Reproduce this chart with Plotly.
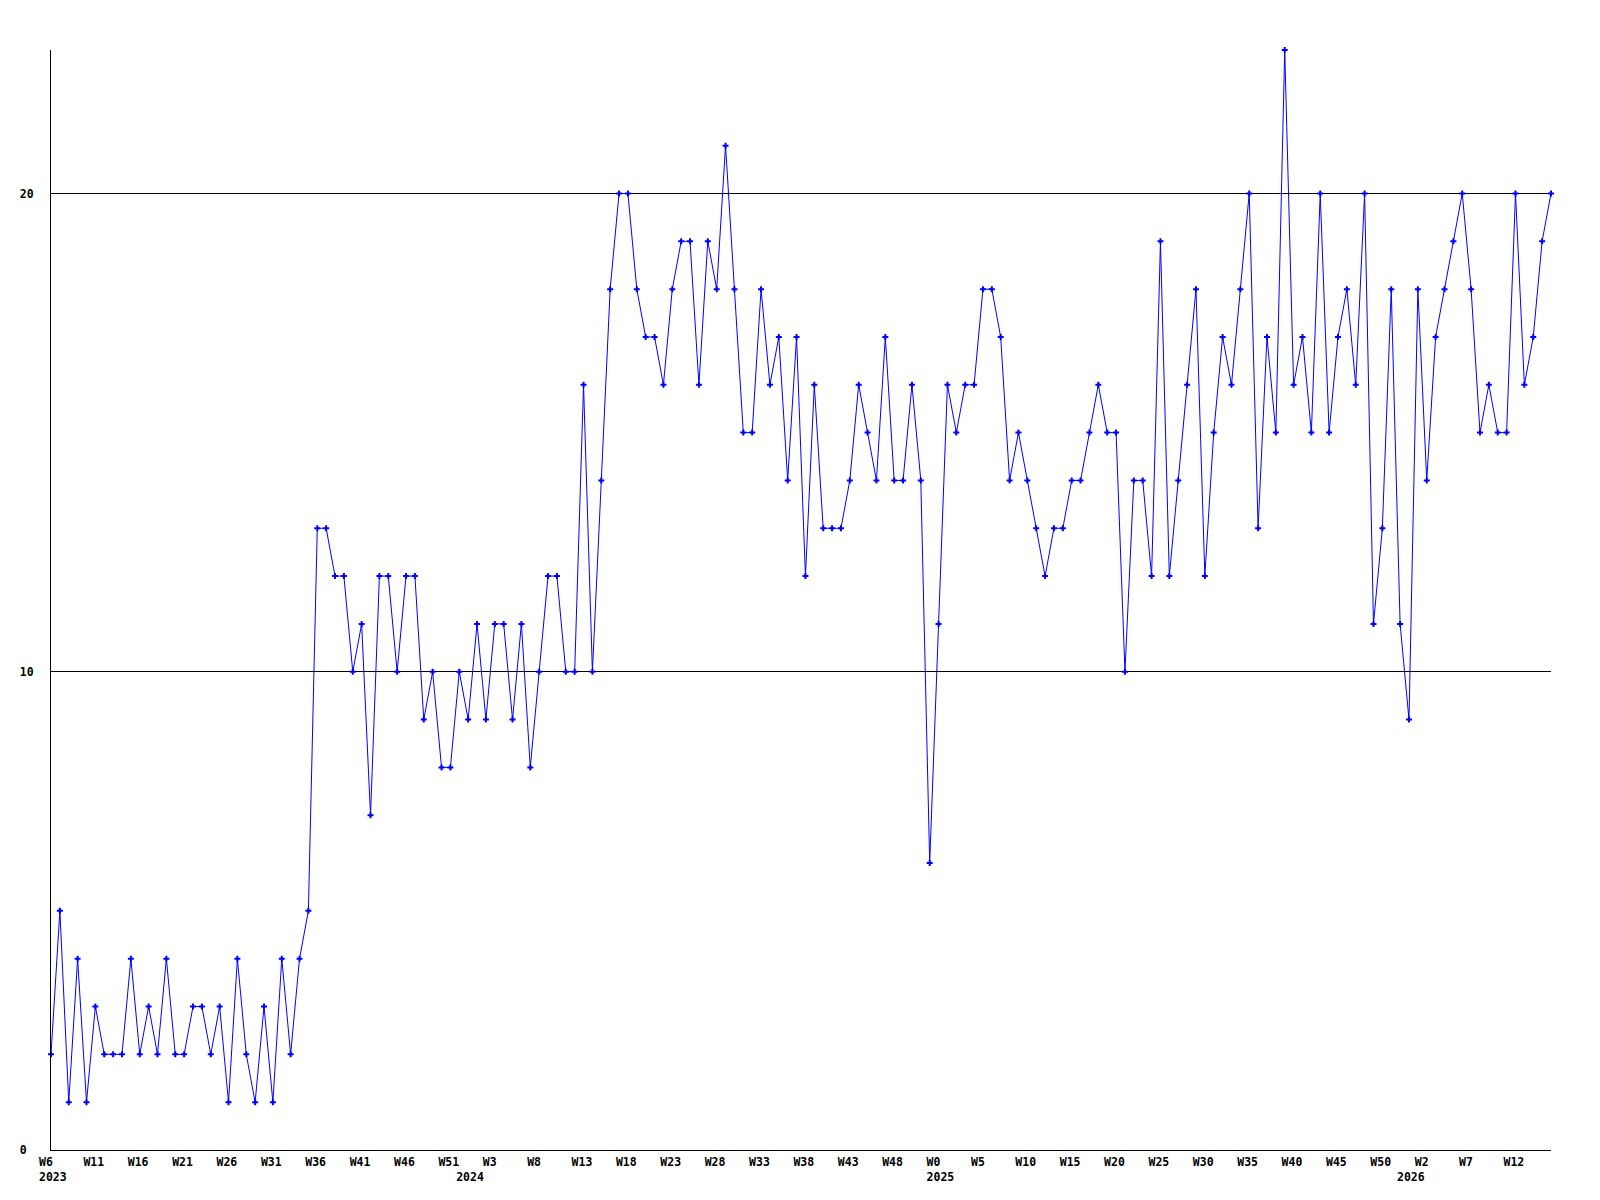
import plotly.graph_objects as go

# ---- data (weekly counts) ----
values = [
    2, 5, 1, 4, 1, 3, 2, 2, 2, 4, 2, 3, 2, 4, 2, 2, 3, 3, 2, 3, 1, 4, 2, 1, 3, 1, 4, 2, 4, 5,
    13, 13, 12, 12, 10, 11, 7, 12, 12, 10, 12, 12, 9, 10, 8, 8, 10, 9, 11, 9, 11, 11, 9, 11, 8,
    10, 12, 12, 10, 10, 16, 10, 14,
    18, 20, 20, 18, 17, 17, 16, 18, 19, 19, 16, 19, 18, 21, 18, 15, 15, 18, 16, 17, 14, 17, 12,
    16, 13, 13, 13, 14, 16, 15, 14, 17, 14, 14, 16, 14, 6,
    11, 16, 15, 16, 16, 18, 18, 17, 14, 15, 14, 13, 12, 13, 13, 14, 14, 15, 16, 15, 15, 10, 14,
    14, 12, 19, 12, 14, 16, 18, 12, 15, 17, 16, 18,
    20, 13, 17, 15, 23, 16, 17, 15, 20, 15, 17, 18, 16, 20, 11, 13, 18, 11, 9, 18, 14, 17, 18,
    19, 20, 18, 15, 16, 15, 15, 20, 16, 17, 19, 20,
]

years = [2023, 2024, 2025, 2026]
first_week = [6, 0, 0, 0]
last_week = [52, 52, 52, 16]

y_tick_values = [0, 10, 20]
y_tick_labels = ["0", "10", "20"]

# ---- derived week / year per point ----
week_of_point, year_of_point = [], []
for yr, w0, w1 in zip(years, first_week, last_week):
    for w in range(w0, w1 + 1):
        week_of_point.append(w)
        year_of_point.append(yr)

n = len(values)
x = list(range(n))

NBSP = "\u00a0"
FONT = "DejaVu Sans Mono"
FONT_SIZE = 11.5
CHAR_W = 0.602 * FONT_SIZE
PLOT_W = 1500
PX_PER_PT = PLOT_W / (n - 1)
LABEL_CHARS = 4
label_offset = (-12 + LABEL_CHARS * CHAR_W / 2) / PX_PER_PT


def pad(s, width=LABEL_CHARS):
    return s + NBSP * (width - len(s))


tickvals, ticktext = [], []
for i in range(n):
    wk = f"W{week_of_point[i]}" if i % 5 == 0 else ""
    yr = str(year_of_point[i]) if (i == 0 or year_of_point[i] != year_of_point[i - 1]) else ""
    if wk or yr:
        tickvals.append(i + label_offset)
        ticktext.append(pad(wk) + "<br>" + pad(yr))

fig = go.Figure()
fig.add_trace(go.Scatter(
    x=x, y=values, mode="lines+markers",
    line=dict(color="#0000ff", width=1),
    marker=dict(symbol="cross", size=5, color="#0000ff"),
    cliponaxis=False, showlegend=False, hoverinfo="skip",
))

tickfont = dict(family=FONT, size=FONT_SIZE, color="black", weight="bold")

fig.update_layout(
    width=1600, height=1200,
    margin=dict(l=51, r=49, t=50, b=50, pad=0),
    paper_bgcolor="white", plot_bgcolor="white",
    xaxis=dict(
        range=[0, n - 1], showgrid=False, zeroline=False,
        showline=True, linecolor="black", linewidth=1,
        ticks="", tickmode="array", tickvals=tickvals, ticktext=ticktext,
        tickangle=0, tickfont=tickfont, ticklabelstandoff=1,
    ),
    yaxis=dict(
        range=[0, 23], showgrid=True, gridcolor="black", gridwidth=1,
        zeroline=False, showline=True, linecolor="black", linewidth=1,
        ticks="", tickmode="array", tickvals=y_tick_values,
        ticktext=[pad(t, 2) for t in y_tick_labels],
        tickfont=tickfont, ticklabelstandoff=14,
    ),
)

fig.write_html(
    "out.html",
    config={"displayModeBar": False},
    post_script="document.body.style.margin='0';",
)
